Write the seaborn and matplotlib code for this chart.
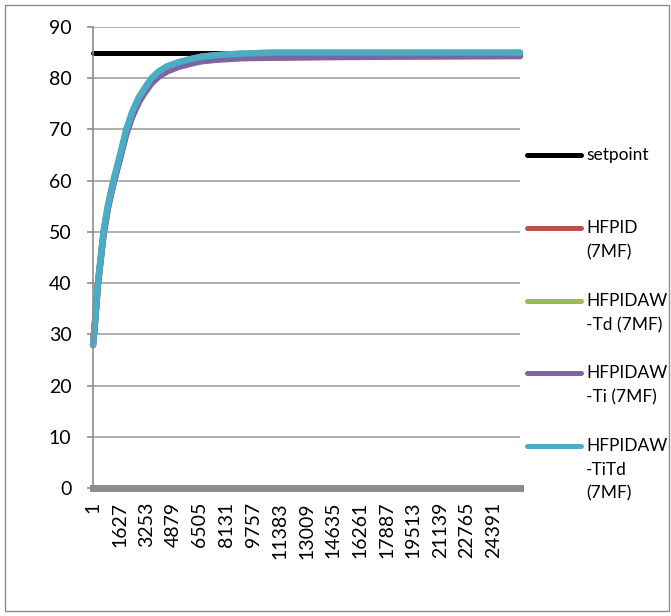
import numpy as np
import pandas as pd
import seaborn as sns
import matplotlib
matplotlib.use("Agg")
import matplotlib.pyplot as plt
from matplotlib.lines import Line2D
from matplotlib.patches import Rectangle

# ---- data ----
steps = [1, 100, 300, 640, 900, 1250, 1670, 2030, 2400, 2800, 3200, 3560, 4000, 4500,
         5185, 5900, 6590, 7500, 9000, 11000, 14000, 18000, 22000, 26000]
setpoint = [85] * 24
hfpid = [27.9, 31.3, 39.7, 49.5, 54.6, 59.6, 64.7, 69.3, 72.7, 75.5, 77.5, 79.1, 80.4, 81.4,
         82.3, 82.9, 83.4, 83.7, 84.0, 84.1, 84.2, 84.3, 84.3, 84.4]
hfpidaw_td = [27.9, 31.5, 40.0, 50.0, 55.0, 60.1, 65.3, 70.0, 73.5, 76.3, 78.3, 80.0, 81.3, 82.3,
              83.1, 83.7, 84.2, 84.5, 84.8, 85.0, 85.0, 85.0, 85.0, 85.0]
hfpidaw_ti = [27.9, 31.3, 39.6, 49.4, 54.5, 59.5, 64.6, 69.2, 72.6, 75.4, 77.4, 79.0, 80.3, 81.3,
              82.2, 82.8, 83.3, 83.6, 83.9, 84.0, 84.1, 84.2, 84.3, 84.3]
hfpidaw_titd = [27.9, 31.5, 40.0, 50.0, 55.0, 60.1, 65.3, 70.0, 73.5, 76.3, 78.3, 80.0, 81.3, 82.3,
                83.1, 83.7, 84.2, 84.5, 84.8, 85.0, 85.0, 85.0, 85.0, 85.0]

series_names = ["setpoint", "HFPID (7MF)", "HFPIDAW -Td (7MF)", "HFPIDAW -Ti (7MF)", "HFPIDAW -TiTd (7MF)"]
legend_labels = ["setpoint", "HFPID\n(7MF)", "HFPIDAW\n-Td (7MF)", "HFPIDAW\n-Ti (7MF)", "HFPIDAW\n-TiTd\n(7MF)"]
colors = ["#000000", "#C0504D", "#9BBB59", "#8064A2", "#4BACC6"]
xtick_vals = [1, 1627, 3253, 4879, 6505, 8131, 9757, 11383, 13009, 14635, 16261, 17887, 19513, 21139, 22765, 24391]
ytick_vals = [0, 10, 20, 30, 40, 50, 60, 70, 80, 90]

all_values = [setpoint, hfpid, hfpidaw_td, hfpidaw_ti, hfpidaw_titd]
df = pd.concat([pd.DataFrame({"step": steps, "value": v, "series": n})
                for n, v in zip(series_names, all_values)], ignore_index=True)

sns.set_theme(style="white")
plt.rcParams["font.family"] = ["Lato", "DejaVu Sans"]

W, H = 671, 616
fig = plt.figure(figsize=(W / 100, H / 100), dpi=100)
ax = fig.add_axes([93 / W, 1 - 488 / H, (520 - 93) / W, (488 - 27) / H])

sns.lineplot(data=df, x="step", y="value", hue="series", hue_order=series_names,
             palette=dict(zip(series_names, colors)), sort=False, legend=False,
             linewidth=4.6, ax=ax)
for i, ln in enumerate(ax.get_lines()):
    ln.set_solid_capstyle("round")
    ln.set_solid_joinstyle("round")
    ln.set_clip_on(False)
    if i == 0:
        ln.set_linewidth(3.6)

ax.set_xlim(1, 26000)
ax.set_ylim(0, 90)
ax.set_xlabel("")
ax.set_ylabel("")
ax.set_yticks(ytick_vals)
ax.set_yticklabels([str(v) for v in ytick_vals], fontsize=14, color="#000000")
ax.set_xticks(xtick_vals)
ax.set_xticklabels([str(v) for v in xtick_vals], rotation=90, fontsize=14, color="#000000")
ax.tick_params(axis="x", length=0, pad=10)
ax.tick_params(axis="y", length=4.5, width=1.2, color="#8C8C8C", pad=11, left=True)
ax.yaxis.grid(True, color="#A0A0A0", linewidth=1.2)
ax.xaxis.grid(False)
ax.set_axisbelow(True)
for s in ["top", "right"]:
    ax.spines[s].set_visible(False)
ax.spines["left"].set_color("#8C8C8C")
ax.spines["left"].set_linewidth(1.2)
ax.spines["bottom"].set_color("#8C8C8C")
ax.spines["bottom"].set_linewidth(5)

# legend drawn at the right, Excel style
line_ys = [155, 228, 301, 373, 446]
for lab, col, y in zip(legend_labels, colors, line_ys):
    fig.add_artist(Line2D([527 / W, 581 / W], [1 - y / H, 1 - y / H], color=col,
                          linewidth=3.6, solid_capstyle="round"))
    fig.text(586 / W, 1 - (y - 8) / H, lab, fontsize=12.5, va="top", ha="left",
             linespacing=1.6, color="#000000")

fig.add_artist(Rectangle((5 / W, 1 - 611 / H), 664 / W, 606 / H, fill=False,
                         edgecolor="#8C8C8C", linewidth=1.0, transform=fig.transFigure))

fig.savefig("out.png", dpi=100)
